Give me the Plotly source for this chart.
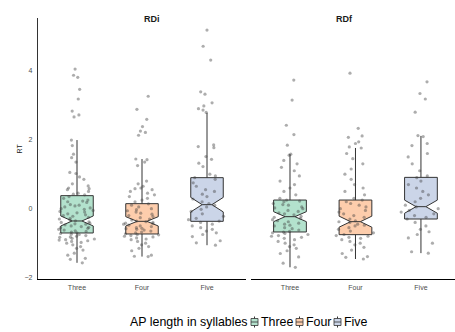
import plotly.graph_objects as go

categories = ["Three", "Four", "Five"]
panels = ["RDi", "RDf"]
colors = {"Three": "#B3E2CD", "Four": "#FDCDAC", "Five": "#CBD5E8"}
legend_title = "AP length in syllables"

# box statistics: (lowerfence, q1, median, q3, upperfence, notchspan)
stats_RDi = {
    "Three": (-1.57, -0.705, -0.357, 0.377, 1.99, 0.145),
    "Four": (-1.39, -0.734, -0.367, 0.145, 1.44, 0.135),
    "Five": (-1.06, -0.367, 0.116, 0.899, 2.78, 0.21),
}
stats_RDf = {
    "Three": (-1.70, -0.676, -0.232, 0.25, 1.58, 0.145),
    "Four": (-1.46, -0.754, -0.377, 0.25, 1.76, 0.16),
    "Five": (-1.29, -0.30, 0.058, 0.908, 2.11, 0.19),
}

# jittered RT points (estimated)
pts_RDi_Three = [4.05, 3.87, 3.81, 3.46, 3.18, 2.83, 2.72, 2.66,
                 1.99, 1.83, 1.58, 1.48, 1.35, 1.05, 1.02, 0.92, 0.85, 0.72, 0.66, 0.60, 0.58, 0.55, 0.50, 0.45, 0.42, 0.40,
                 0.35, 0.30, 0.25, 0.22, 0.20, 0.18, 0.12, 0.10, 0.08, 0.05, 0.02, 0.00, -0.02, -0.05, -0.08, -0.10,
                 -0.12, -0.15, -0.18, -0.20, -0.22, -0.25, -0.28, -0.30, -0.33, -0.35,
                 -0.38, -0.40, -0.42, -0.44, -0.45, -0.47, -0.50, -0.52, -0.54, -0.55, -0.57, -0.60, -0.62, -0.64,
                 -0.66, -0.68, -0.70,
                 -0.72, -0.74, -0.75, -0.78, -0.80, -0.82, -0.83, -0.86, -0.88, -0.90, -0.91, -0.93, -0.95, -0.98,
                 -1.00, -1.05, -1.10, -1.15, -1.20, -1.29, -1.35, -1.44, -1.47, -1.57]
pts_RDi_Four = [3.26, 2.88, 2.59, 2.38, 2.25, 2.21, 2.13,
                1.44, 1.42, 1.35, 1.25, 0.80, 0.72, 0.65, 0.60, 0.58, 0.55, 0.50, 0.45, 0.40, 0.35, 0.30, 0.25, 0.20,
                0.14, 0.10, 0.05, 0.00, -0.03, -0.06, -0.10, -0.13, -0.16, -0.20, -0.23, -0.26, -0.30, -0.33, -0.36,
                -0.38, -0.40, -0.42, -0.43, -0.45, -0.48, -0.50, -0.52, -0.55, -0.57, -0.58, -0.60, -0.62, -0.65,
                -0.68, -0.70, -0.73, -0.75, -0.76, -0.78, -0.80, -0.82, -0.85, -0.88, -0.90, -0.95, -1.00, -1.05,
                -1.10, -1.15, -1.22, -1.35, -1.38, -1.39]
pts_RDi_Five = [5.18, 4.71, 4.31, 3.39, 3.32, 3.07, 2.98, 2.90, 2.86, 2.79,
                1.85, 1.80, 1.77, 1.51, 1.43, 1.32, 1.22, 1.00, 0.95, 0.90,
                0.85, 0.75, 0.65, 0.55, 0.50, 0.42, 0.35, 0.28, 0.20, 0.15,
                0.10, 0.05, -0.02, -0.08, -0.15, -0.22, -0.28, -0.32, -0.36,
                -0.40, -0.45, -0.50, -0.55, -0.60, -0.65, -0.70, -0.75, -0.81, -0.93, -0.99, -1.06]
pts_RDf_Three = [3.73, 3.15, 2.42, 2.15, 1.84,
                 1.58, 1.55, 1.40, 1.30, 1.20, 1.10, 0.95, 0.80, 0.70, 0.60, 0.50, 0.40, 0.30,
                 0.25, 0.22, 0.20, 0.15, 0.12, 0.10, 0.05, 0.02, 0.00, -0.05, -0.08, -0.12, -0.15, -0.18, -0.22,
                 -0.25, -0.28, -0.32, -0.35, -0.38, -0.42, -0.45, -0.48, -0.50, -0.55, -0.58, -0.62, -0.66,
                 -0.68, -0.70, -0.72, -0.75, -0.78, -0.80, -0.83, -0.86, -0.90, -0.95, -1.00, -1.05,
                 -1.10, -1.15, -1.22, -1.30, -1.40, -1.58, -1.70]
pts_RDf_Four = [3.93, 2.33, 2.11, 2.07, 1.94, 1.89, 1.79,
                1.76, 1.60, 1.45, 1.30, 1.15, 1.00, 0.85, 0.70, 0.60, 0.50, 0.40, 0.30,
                0.25, 0.20, 0.15, 0.10, 0.05, 0.00, -0.05, -0.10, -0.15, -0.20, -0.25, -0.30, -0.35,
                -0.38, -0.40, -0.45, -0.48, -0.50, -0.55, -0.60, -0.65, -0.70, -0.75,
                -0.78, -0.80, -0.83, -0.86, -0.90, -0.95, -1.00, -1.05, -1.12, -1.20, -1.30, -1.39, -1.41, -1.46]
pts_RDf_Five = [3.68, 3.34, 3.18, 2.80, 2.12, 2.09, 1.89, 1.83,
                1.60, 1.50, 1.30, 1.10, 0.95, 0.90, 0.80, 0.70, 0.60, 0.50, 0.40, 0.30, 0.20, 0.10,
                0.05, 0.00, -0.05, -0.10, -0.15, -0.20, -0.25, -0.30,
                -0.40, -0.50, -0.60, -0.67, -0.75, -0.85, -1.00, -1.25, -1.29]

points = {
    "RDi": {"Three": pts_RDi_Three, "Four": pts_RDi_Four, "Five": pts_RDi_Five},
    "RDf": {"Three": pts_RDf_Three, "Four": pts_RDf_Four, "Five": pts_RDf_Five},
}
stats = {"RDi": stats_RDi, "RDf": stats_RDf}

fig = go.Figure()
for pi, panel in enumerate(panels):
    xa = "x" if pi == 0 else "x2"
    ya = "y" if pi == 0 else "y2"
    for cat in categories:
        lf, q1, med, q3, uf, ns = stats[panel][cat]
        fig.add_trace(go.Box(
            x=[cat], q1=[q1], median=[med], q3=[q3], lowerfence=[lf], upperfence=[uf],
            notchspan=[ns], notched=True, notchwidth=0.35, boxpoints=False,
            width=0.5, whiskerwidth=0, fillcolor=colors[cat],
            line=dict(color="#333333", width=1),
            name=cat, showlegend=False,
            xaxis=xa, yaxis=ya, hoverinfo="skip",
        ))
    for cat in categories:
        vals = points[panel][cat]
        fig.add_trace(go.Box(
            x=[cat] * len(vals), y=vals, boxpoints="all", jitter=1, pointpos=0,
            width=0.62, fillcolor="rgba(0,0,0,0)",
            line=dict(color="rgba(0,0,0,0)", width=0),
            marker=dict(color="rgba(60,60,60,0.42)", size=3.2),
            showlegend=False, xaxis=xa, yaxis=ya, hoverinfo="skip",
        ))

W, H = 455, 332
ml, mt, mb = 38, 18, 53
pw = W - ml
ph = H - mt - mb
left_end = (246 - ml) / pw
right_start = (250.7 - ml) / pw


def px(x):
    return (x - ml) / pw


def py(y):
    return (H - mb - y) / ph


font_family = "Liberation Sans, Arial, sans-serif"
tickfont = dict(family=font_family, size=7, color="#4d4d4d")
fig.update_layout(
    width=W, height=H,
    margin=dict(l=ml, r=0, t=mt, b=mb),
    paper_bgcolor="white", plot_bgcolor="white",
    boxmode="overlay",
    font=dict(family=font_family),
    showlegend=False,
    hovermode=False,
    xaxis=dict(domain=[0, left_end], type="category", categoryorder="array", categoryarray=categories,
               range=[-0.6, 2.6], showline=True, linecolor="black", linewidth=1.2,
               showgrid=False, zeroline=False, ticks="", tickfont=tickfont, ticklabelstandoff=1),
    xaxis2=dict(domain=[right_start, 1], type="category", categoryorder="array", categoryarray=categories,
                range=[-0.6, 2.52], showline=True, linecolor="black", linewidth=1.2,
                showgrid=False, zeroline=False, ticks="", tickfont=tickfont, anchor="y2", ticklabelstandoff=1),
    yaxis=dict(range=[-2.04, 5.53], tickvals=[-2, 0, 2, 4], showline=True, linecolor="#333333", linewidth=1.2,
               showgrid=False, zeroline=False, ticks="", tickfont=tickfont, ticklabelstandoff=3),
    yaxis2=dict(range=[-2.04, 5.53], anchor="x2", matches="y", showline=False, showticklabels=False,
                showgrid=False, zeroline=False, ticks=""),
)

fig.add_annotation(text="<b>RDi</b>", x=left_end / 2, y=py(12), xref="paper", yref="paper",
                   showarrow=False, font=dict(size=9, color="#1a1a1a"))
fig.add_annotation(text="<b>RDf</b>", x=px(355), y=py(12), xref="paper", yref="paper",
                   showarrow=False, font=dict(size=9, color="#1a1a1a"))
fig.add_annotation(text="RT", x=px(13), y=py(149), xref="paper", yref="paper",
                   showarrow=False, textangle=-90, font=dict(size=7, color="#1a1a1a"))

# legend (title + key glyphs + labels)
legend_font = dict(family=font_family, size=12.4, color="black")
fig.add_annotation(text=legend_title, x=px(128.5), y=py(322), xref="paper", yref="paper",
                   xanchor="left", yanchor="middle", showarrow=False, font=legend_font, borderpad=0)
key_x = {"Three": 251, "Four": 296, "Five": 334}
label_x = {"Three": 259.5, "Four": 304.5, "Five": 342.5}
for cat in categories:
    x0 = key_x[cat]
    x1 = x0 + 7
    xc = (x0 + x1) / 2
    fig.add_shape(type="line", xref="paper", yref="paper", x0=px(xc), x1=px(xc), y0=py(316.5), y1=py(327.5),
                  line=dict(color="#333333", width=1))
    fig.add_shape(type="rect", xref="paper", yref="paper", x0=px(x0), x1=px(x1), y0=py(318.5), y1=py(325.5),
                  fillcolor=colors[cat], line=dict(color="#333333", width=0.8))
    fig.add_shape(type="line", xref="paper", yref="paper", x0=px(x0), x1=px(x1), y0=py(322), y1=py(322),
                  line=dict(color="#333333", width=0.8))
    fig.add_annotation(text=cat, x=px(label_x[cat]), y=py(322), xref="paper", yref="paper",
                       xanchor="left", yanchor="middle", showarrow=False, font=legend_font, borderpad=0)

fig.write_html("out.html", config={"displayModeBar": False},
               post_script="document.body.style.margin='0';document.body.style.padding='0';")
